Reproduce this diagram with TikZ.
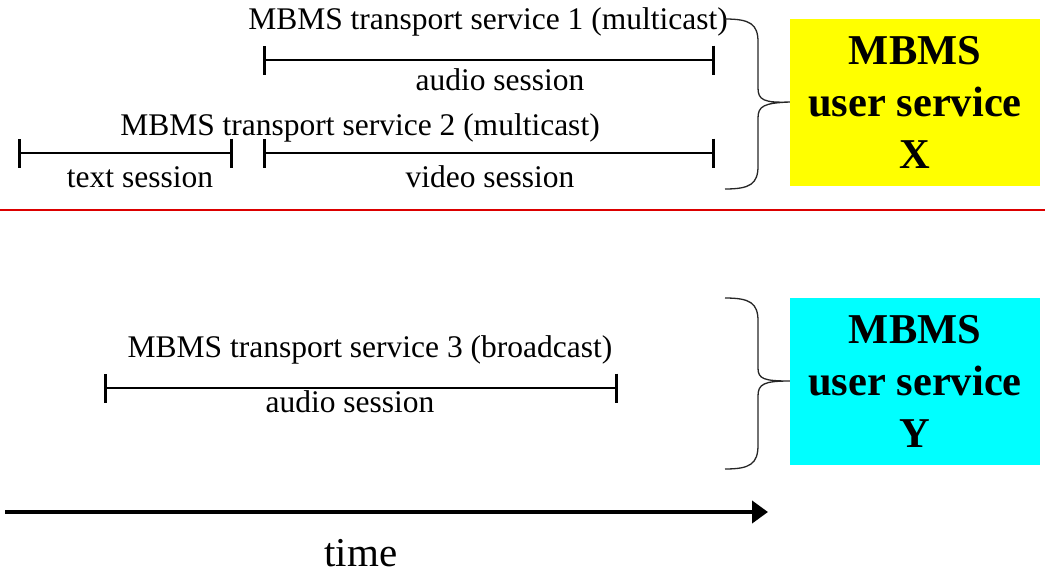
\documentclass[tikz,border=0pt]{standalone}
\usepackage{fontspec}
\setmainfont{Liberation Serif}
\usetikzlibrary{arrows.meta}
\definecolor{sepred}{RGB}{220,0,0}
\definecolor{boxyellow}{RGB}{255,255,0}
\definecolor{boxcyan}{RGB}{0,255,255}
\begin{document}
\begin{tikzpicture}[x=1pt,y=-1pt,
  seg/.style={line width=2.8pt,{Bar[width=29pt]}-{Bar[width=29pt]}},
  lbl/.style={inner sep=0pt,font=\fontsize{31.5}{33}\selectfont},
  usrv/.style={align=center,inner sep=0pt,minimum width=250pt,minimum height=167pt,font=\fontsize{42.5}{52}\selectfont\bfseries},
  brc/.style={line width=1.3pt,draw=black!85}]
\useasboundingbox (0,0) rectangle (1045,584);
% transport service 1
\coordinate (a1) at (263,60);
\coordinate (a2) at (715,60);
\draw[seg] (a1) -- (a2);
\node[lbl] (t1) at (488,22) {MBMS transport service 1 (multicast)};
\node[lbl] (s1) at (500,80) {audio session};
% transport service 2
\coordinate (b1) at (18,153);
\coordinate (b2) at (233,153);
\coordinate (b3) at (263,153);
\coordinate (b4) at (715,153);
\draw[seg] (b1) -- (b2);
\draw[seg] (b3) -- (b4);
\node[lbl] (t2) at (360,128) {MBMS transport service 2 (multicast)};
\node[lbl] (s2) at (140,177) {text session};
\node[lbl] (s3) at (490,177) {video session};
% user service X
\node[usrv,fill=boxyellow] (X) at (915,102) {MBMS\\user service\\X};
\draw[brc] (725,19) .. controls (750,19) and (758,24) .. (758,42) -- (758,88)
  .. controls (758,100) and (764,103) .. (X.west)
  .. controls (764,103) and (758,106) .. (758,118) -- (758,166)
  .. controls (758,184) and (750,189) .. (725,189);
% separator
\draw[line width=1.2pt,sepred] (0,210) -- (1045,210);
% transport service 3
\coordinate (c1) at (104,388);
\coordinate (c2) at (618,388);
\draw[seg] (c1) -- (c2);
\node[lbl] (t3) at (370,350) {MBMS transport service 3 (broadcast)};
\node[lbl] (s4) at (350,402) {audio session};
% user service Y
\node[usrv,fill=boxcyan] (Y) at (915,381) {MBMS\\user service\\Y};
\draw[brc] (725,298) .. controls (750,298) and (758,303) .. (758,321) -- (758,368)
  .. controls (758,379) and (764,381) .. (Y.west)
  .. controls (764,381) and (758,384) .. (758,396) -- (758,445)
  .. controls (758,464) and (750,469) .. (725,469);
% time axis
\coordinate (ts) at (5,512);
\coordinate (te) at (768,512);
\draw[line width=4.8pt,-{Triangle[length=16pt,width=22pt]}] (ts) -- (te);
\node[inner sep=0pt,font=\fontsize{41}{43}\selectfont] (time) at (361,553) {time};
\end{tikzpicture}
\end{document}
